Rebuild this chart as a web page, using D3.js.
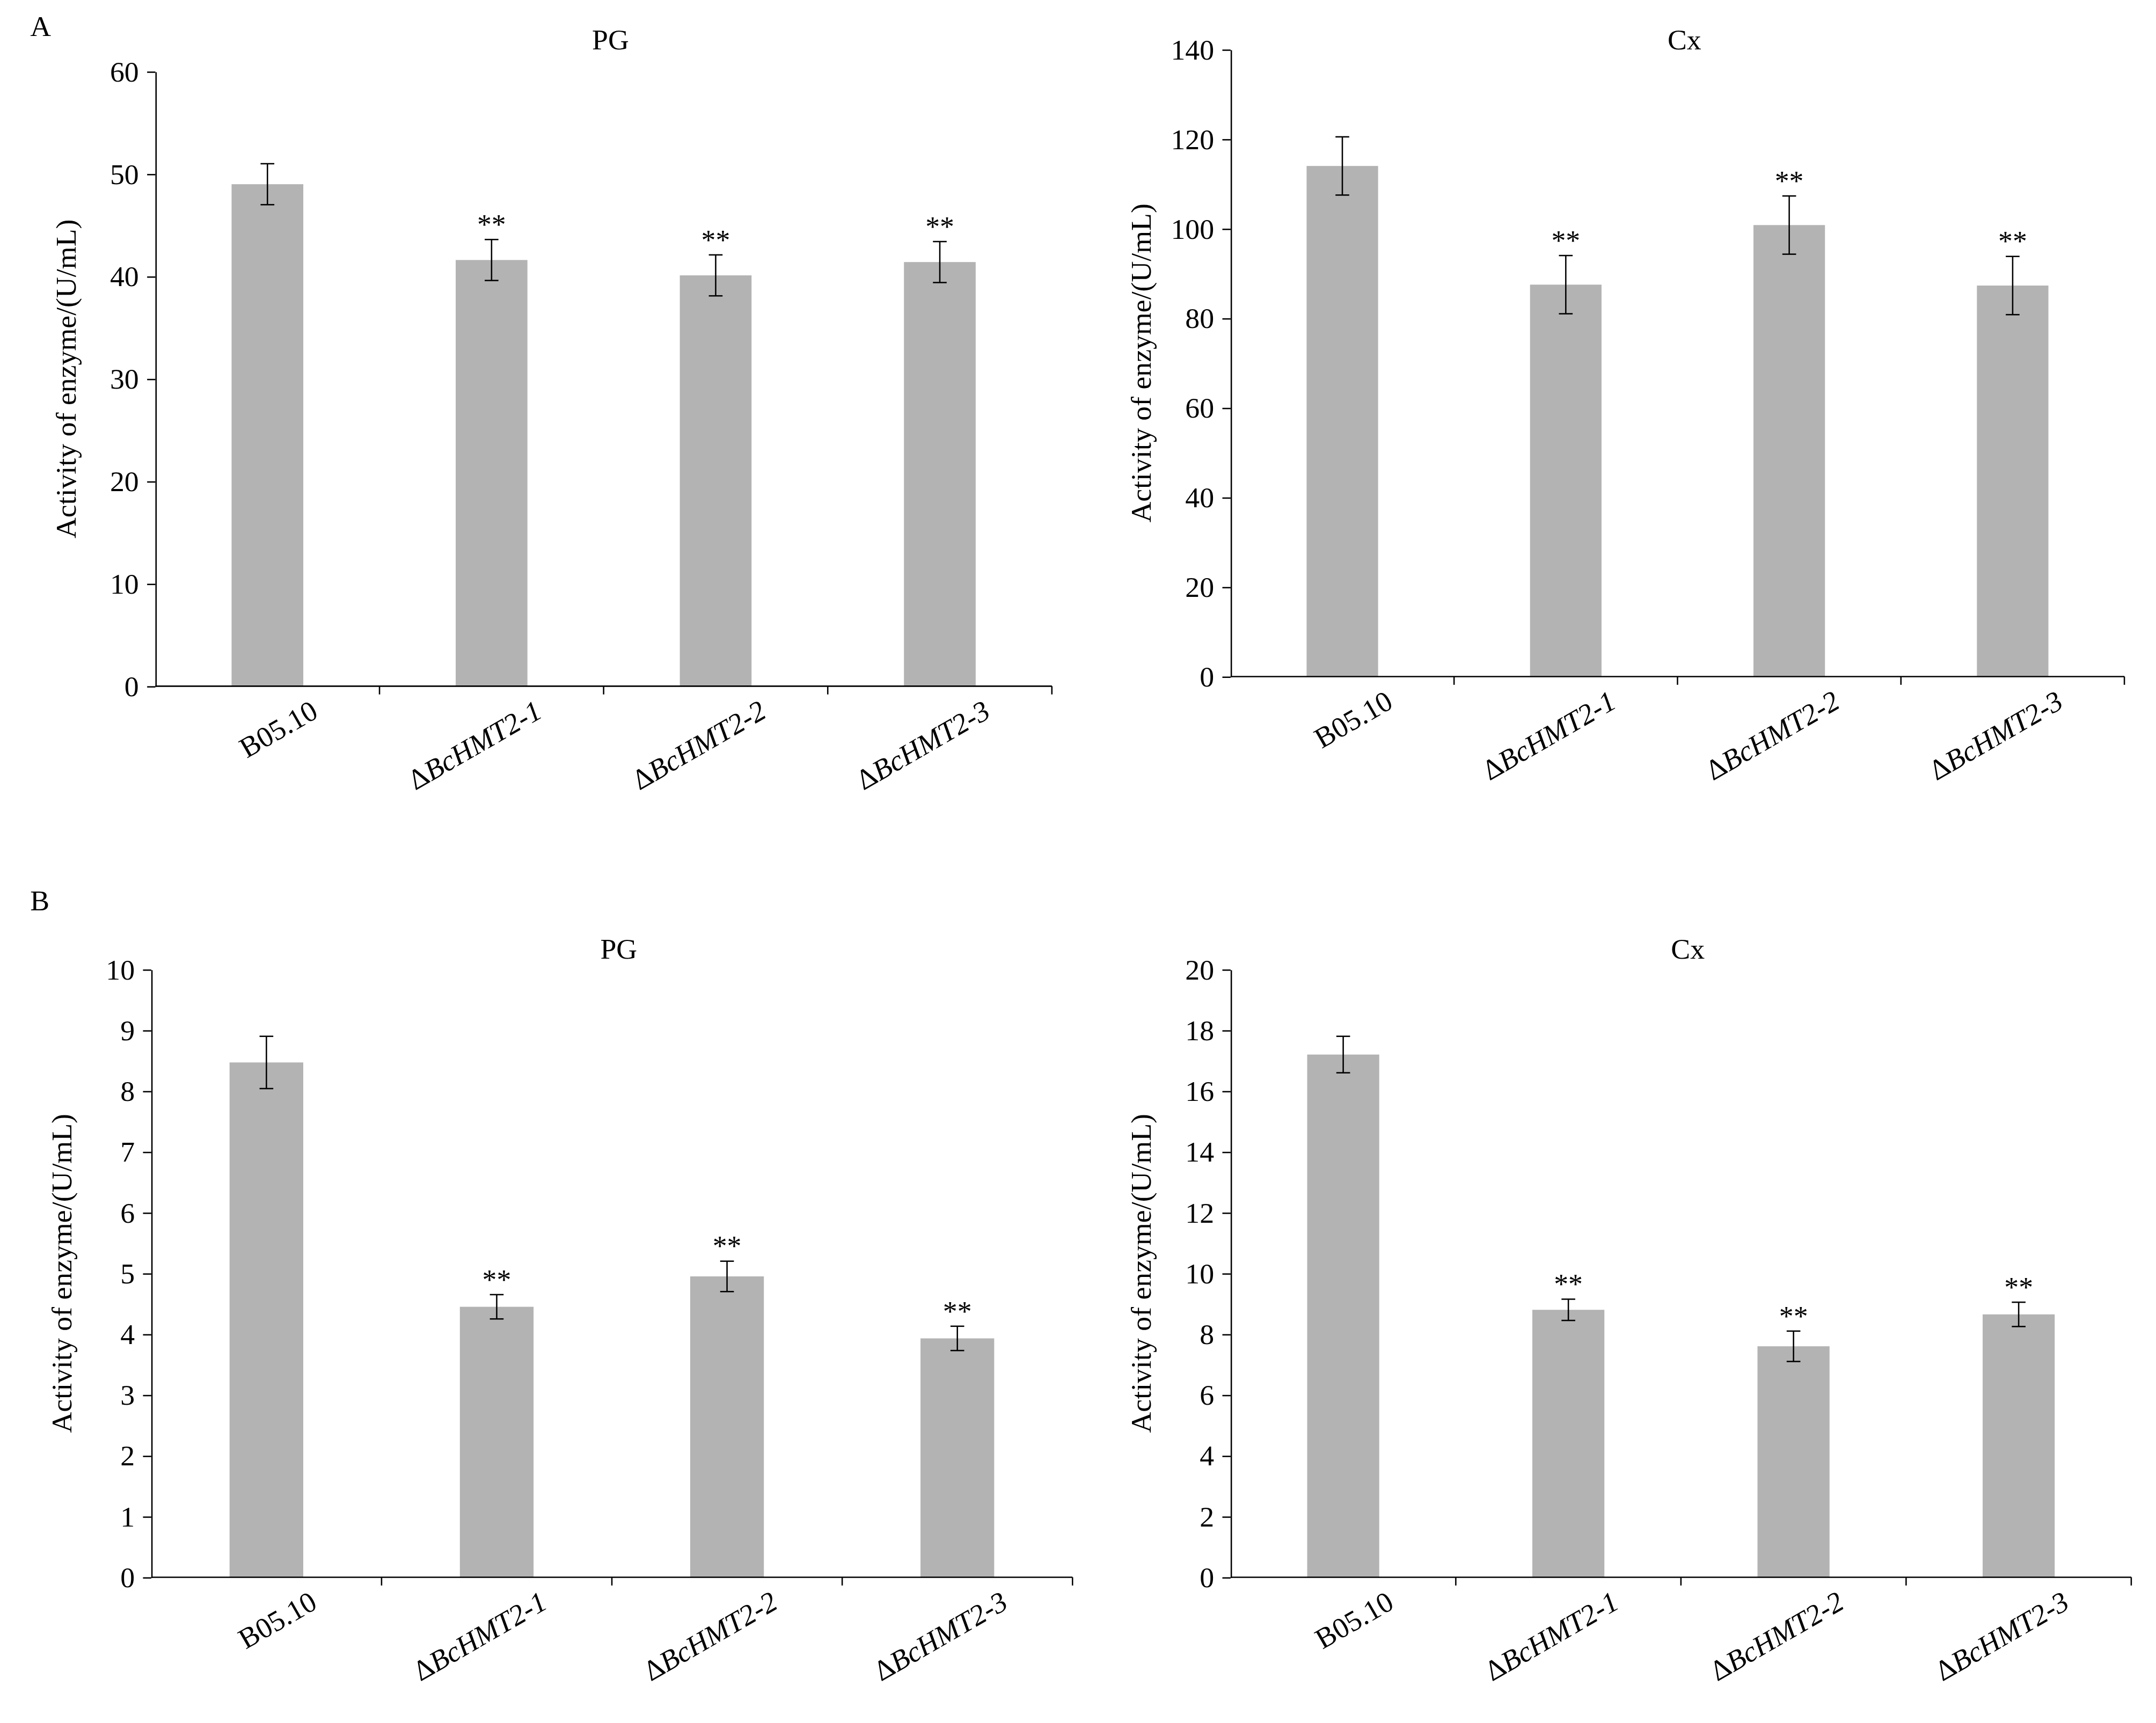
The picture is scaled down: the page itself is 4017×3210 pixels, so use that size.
<!DOCTYPE html>
<html><head><meta charset="utf-8">
<script src="https://cdn.jsdelivr.net/npm/d3@7"></script>
<style>body{margin:0;background:#fff}svg{display:block}text{font-family:"Liberation Serif","Times New Roman",serif}</style>
</head><body>
<svg id="chart" width="4017" height="3210"></svg>
<script>
const categories = ['B05.10', '1', '2', '3'];
const pgA = [49.0, 41.6, 40.1, 41.4];
const pgAErr = [2.0, 2.0, 2.0, 2.0];
const cxA = [114, 87.5, 100.8, 87.3];
const cxAErr = [6.5, 6.5, 6.5, 6.5];
const pgB = [8.47, 4.45, 4.95, 3.93];
const pgBErr = [0.43, 0.2, 0.25, 0.2];
const cxB = [17.2, 8.8, 7.6, 8.65];
const cxBErr = [0.6, 0.35, 0.5, 0.4];
const stars = [false, true, true, true];

const s = 4017 / 1568;
const svg = d3.select('#chart');
const root = svg.append('g').attr('transform', `scale(${s})`);

root.append('text').attr('x', 22).attr('y', 26).attr('font-size', 21).text('A');
root.append('text').attr('x', 22).attr('y', 662).attr('font-size', 21).text('B');

function panel(o) {
  const g = root.append('g');
  const x = d3.scaleBand().domain(categories).range([o.x0, o.x1]).paddingInner(0.68).paddingOuter(0.34);
  const y = d3.scaleLinear().domain([0, o.max]).range([o.y0, o.y1]);

  g.selectAll('rect.bar').data(o.values).join('rect')
    .attr('x', (d, i) => x(categories[i])).attr('width', x.bandwidth())
    .attr('y', d => y(d)).attr('height', d => y(0) - y(d)).attr('fill', '#b3b3b3');

  o.values.forEach((v, i) => {
    const cx = x(categories[i]) + x.bandwidth() / 2, e = o.err[i];
    const eg = g.append('g').attr('stroke', '#000').attr('stroke-width', 1);
    eg.append('line').attr('x1', cx).attr('x2', cx).attr('y1', y(v - e)).attr('y2', y(v + e));
    eg.append('line').attr('x1', cx - 5).attr('x2', cx + 5).attr('y1', y(v - e)).attr('y2', y(v - e));
    eg.append('line').attr('x1', cx - 5).attr('x2', cx + 5).attr('y1', y(v + e)).attr('y2', y(v + e));
    if (stars[i]) g.append('text').attr('x', cx).attr('y', y(v + e) - 4).attr('text-anchor', 'middle')
      .attr('font-size', 21).text('**');
  });

  const ya = g.append('g').attr('transform', `translate(${o.x0},0)`)
    .call(d3.axisLeft(y).ticks(o.ticks).tickSize(6).tickPadding(6).tickSizeOuter(0));
  ya.selectAll('text').attr('font-size', 21).attr('font-family', '"Liberation Serif",serif').attr('fill', '#000');
  ya.selectAll('line,path').attr('stroke', '#000');

  // x axis with ticks between categories
  const xa = g.append('g').attr('stroke', '#000');
  xa.append('line').attr('x1', o.x0).attr('x2', o.x1).attr('y1', o.y0).attr('y2', o.y0);
  const step = x.step();
  for (let k = 1; k <= categories.length; k++) {
    const tx = o.x0 + k * step;
    xa.append('line').attr('x1', tx).attr('x2', tx).attr('y1', o.y0).attr('y2', o.y0 + 6);
  }

  categories.forEach((c, i) => {
    const cx = x(c) + x.bandwidth() / 2;
    const t = g.append('text').attr('text-anchor', 'end').attr('font-size', 21)
      .attr('transform', `translate(${cx + 38},${o.y0 + 22}) rotate(-30)`);
    if (c === 'B05.10') t.text(c);
    else {
      t.append('tspan').text('Δ');
      t.append('tspan').attr('font-style', 'italic').text('BcHMT2');
      t.append('tspan').attr('font-style', 'italic').text('-' + c);
    }
  });

  g.append('text').attr('x', (o.x0 + o.x1) / 2 + 5).attr('y', o.titleY).attr('text-anchor', 'middle')
    .attr('font-size', 21).text(o.title);
  g.append('text').attr('transform', `translate(${o.x0 - 58},${(o.y0 + o.y1) / 2}) rotate(-90)`)
    .attr('text-anchor', 'middle').attr('font-size', 21).text('Activity of enzyme/(U/mL)');
}

panel({title: 'PG', values: pgA, err: pgAErr, max: 60, ticks: 6, x0: 113, x1: 765, y0: 499, y1: 52, titleY: 36});
panel({title: 'Cx', values: cxA, err: cxAErr, max: 140, ticks: 7, x0: 895, x1: 1545, y0: 492, y1: 36, titleY: 36});
panel({title: 'PG', values: pgB, err: pgBErr, max: 10, ticks: 10, x0: 110, x1: 780, y0: 1147, y1: 705, titleY: 697});
panel({title: 'Cx', values: cxB, err: cxBErr, max: 20, ticks: 10, x0: 895, x1: 1550, y0: 1147, y1: 705, titleY: 697});
</script>
</body></html>
